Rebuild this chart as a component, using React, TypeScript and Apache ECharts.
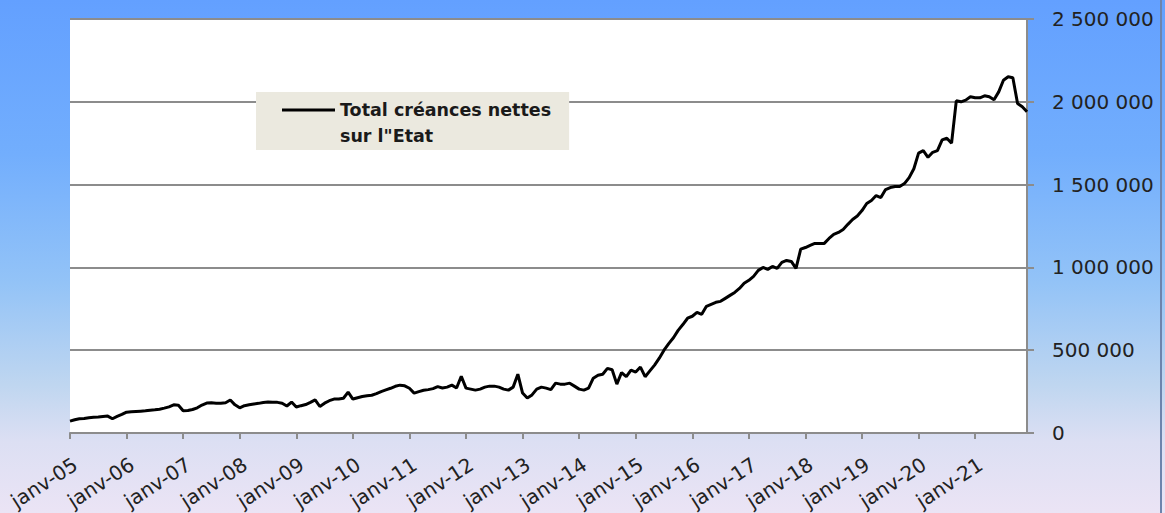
import React, { useEffect, useRef } from "react";
import * as echarts from "echarts";

// ---- Data (values in thousands) ----
const MONTHS = ["janv", "févr", "mars", "avr", "mai", "juin", "juil", "août", "sept", "oct", "nov", "déc"];
const YEARS = [2005, 2006, 2007, 2008, 2009, 2010, 2011, 2012, 2013, 2014, 2015, 2016, 2017, 2018, 2019, 2020, 2021];

const v2005 = [72, 80, 86, 88, 92, 95, 97, 100, 102, 86, 100, 112];
const v2006 = [126, 128, 130, 132, 134, 138, 140, 143, 150, 158, 170, 168];
const v2007 = [134, 136, 142, 152, 169, 181, 182, 180, 180, 183, 199, 170];
const v2008 = [152, 165, 170, 175, 179, 184, 187, 185, 185, 180, 163, 187];
const v2009 = [157, 165, 172, 185, 200, 160, 180, 195, 205, 205, 210, 247];
const v2010 = [205, 213, 220, 225, 228, 238, 250, 260, 270, 282, 289, 285];
const v2011 = [270, 241, 250, 258, 262, 268, 280, 272, 277, 289, 272, 343];
const v2012 = [271, 265, 259, 265, 277, 283, 283, 277, 265, 259, 277, 355];
const v2013 = [241, 211, 230, 265, 277, 271, 262, 301, 295, 295, 301, 283];
const v2014 = [265, 259, 271, 331, 349, 355, 390, 382, 295, 365, 340, 380];
const v2015 = [368, 398, 340, 375, 410, 452, 500, 540, 575, 620, 655, 693];
const v2016 = [705, 729, 717, 765, 777, 789, 795, 813, 831, 849, 873, 904];
const v2017 = [922, 946, 982, 1000, 988, 1006, 994, 1030, 1042, 1036, 994, 1110];
const v2018 = [1120, 1133, 1145, 1145, 1145, 1175, 1199, 1211, 1229, 1260, 1289, 1310];
const v2019 = [1343, 1386, 1404, 1434, 1422, 1470, 1482, 1488, 1488, 1506, 1542, 1596];
const v2020 = [1690, 1705, 1665, 1695, 1705, 1770, 1780, 1750, 2006, 2000, 2010, 2030];
const v2021 = [2024, 2024, 2036, 2030, 2012, 2060, 2130, 2151, 2145, 1990, 1970, 1940];

const YEAR_VALUES = [v2005, v2006, v2007, v2008, v2009, v2010, v2011, v2012, v2013, v2014, v2015, v2016, v2017, v2018, v2019, v2020, v2021];

const SERIES_NAME = 'Total créances nettes sur l"Etat';
const LEGEND_LABEL = 'Total créances nettes\nsur l"Etat';

const Y_MIN = 0;
const Y_MAX = 2500000;
const Y_STEP = 500000;

const categories: string[] = [];
YEARS.forEach((y) => {
  const yy = String(y % 100).padStart(2, "0");
  MONTHS.forEach((m) => categories.push(`${m}-${yy}`));
});
const values: number[] = [];
YEAR_VALUES.forEach((arr) => arr.forEach((v) => values.push(v * 1000)));

const fmt = (v: number) => String(v).replace(/\B(?=(\d{3})+(?!\d))/g, " ");

export default function App() {
  const ref = useRef<HTMLDivElement>(null);

  useEffect(() => {
    if (!ref.current) return;
    const chart = echarts.init(ref.current, undefined, { renderer: "svg" });
    const axisGray = "#8c8c8c";
    const labelFont = "DejaVu Sans";
    chart.setOption({
      animation: false,
      backgroundColor: "transparent",
      grid: {
        left: 70,
        right: 138,
        top: 19,
        bottom: 80,
        show: true,
        backgroundColor: "#ffffff",
        borderWidth: 0,
      },
      legend: {
        show: true,
        left: 256,
        top: 92,
        backgroundColor: "#ebe9df",
        padding: [5, 18, 1, 26],
        itemWidth: 53,
        itemHeight: 29,
        icon: "path://M0 0H53V3H0ZM0 29L53 29",
        itemStyle: { color: "#000000", borderWidth: 0 },
        lineStyle: { opacity: 0 },
        formatter: () => LEGEND_LABEL,
        textStyle: {
          fontFamily: labelFont,
          fontWeight: "bold",
          fontSize: 17.5,
          lineHeight: 26,
          color: "#1a1a1a",
        },
        data: [SERIES_NAME],
      },
      xAxis: {
        type: "category",
        data: categories,
        boundaryGap: false,
        axisLine: { show: true, lineStyle: { color: axisGray, width: 2 } },
        axisTick: { show: true, interval: 11, length: 6, lineStyle: { color: axisGray, width: 2 } },
        axisLabel: {
          interval: 11,
          rotate: 33,
          margin: 21,
          verticalAlign: "top",
          fontFamily: labelFont,
          fontSize: 20,
          color: "#222222",
        },
        splitLine: { show: false },
      },
      yAxis: {
        type: "value",
        position: "right",
        min: Y_MIN,
        max: Y_MAX,
        interval: Y_STEP,
        axisLine: { show: true, lineStyle: { color: axisGray, width: 2 } },
        axisTick: { show: true, length: 7, lineStyle: { color: axisGray, width: 2 } },
        axisLabel: {
          margin: 25,
          fontFamily: labelFont,
          fontSize: 20,
          color: "#222222",
          formatter: (v: number) => fmt(v),
        },
        splitLine: { show: true, lineStyle: { color: axisGray, width: 2 } },
      },
      series: [
        {
          name: SERIES_NAME,
          type: "line",
          data: values,
          symbol: "none",
          smooth: false,
          lineStyle: { color: "#000000", width: 3 },
          itemStyle: { color: "#000000" },
        },
      ],
      graphic: [
        {
          type: "rect",
          shape: { x: 1160, y: 0, width: 2, height: 513 },
          style: { fill: "#6d84ad" },
          silent: true,
        },
      ],
    });
    return () => chart.dispose();
  }, []);

  return (
    <div
      style={{
        position: "absolute",
        left: 0,
        top: 0,
        width: 1165,
        height: 513,
        background:
          "linear-gradient(to bottom, #63a0ff 0%, #72aefd 30%, #93c3f7 55%, #bfd6f0 75%, #dcdff3 86%, #ebe4f5 100%)",
      }}
    >
      <div ref={ref} style={{ width: 1165, height: 513 }} />
    </div>
  );
}
